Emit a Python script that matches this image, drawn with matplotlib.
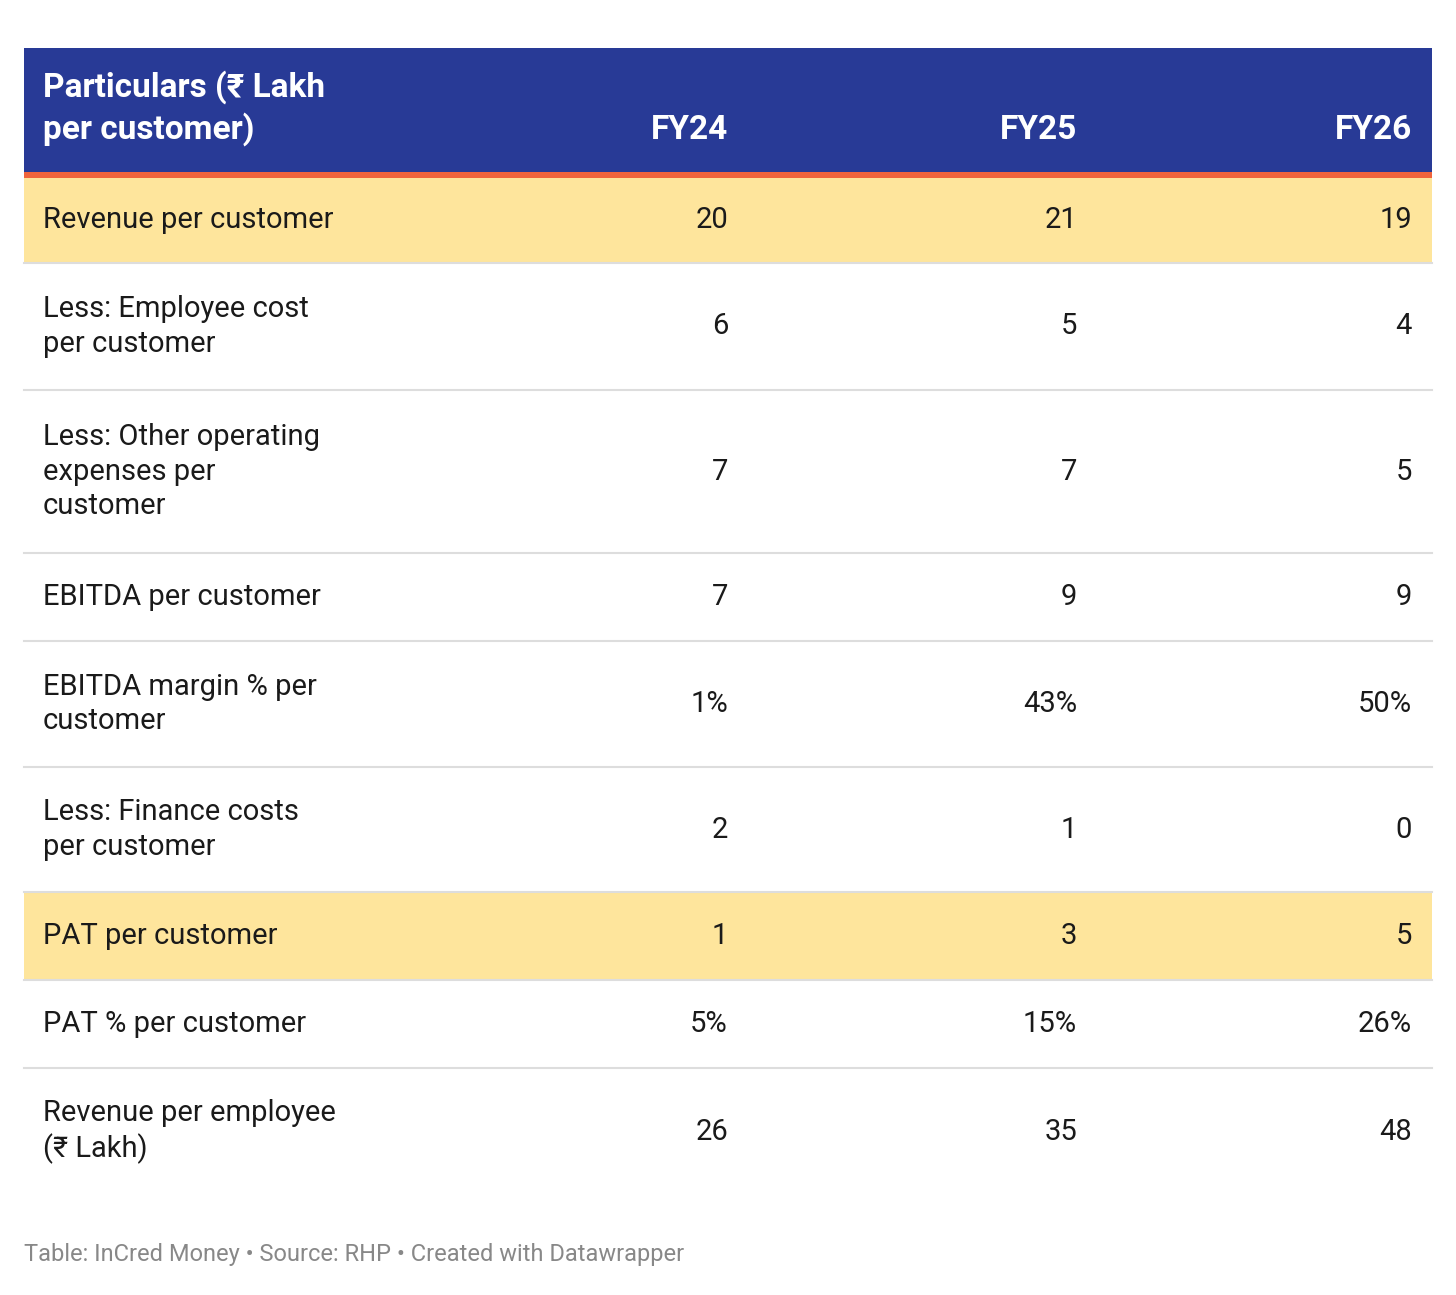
import matplotlib.pyplot as plt

plt.rcParams['font.family'] = ['Roboto', 'DejaVu Sans']

columns = ["FY24", "FY25", "FY26"]
labels = [
    "Revenue per customer",
    "Less: Employee cost\nper customer",
    "Less: Other operating\nexpenses per\ncustomer",
    "EBITDA per customer",
    "EBITDA margin % per\ncustomer",
    "Less: Finance costs\nper customer",
    "PAT per customer",
    "PAT % per customer",
    "Revenue per employee\n(₹ Lakh)",
]
fy24 = ["20", "6", "7", "7", "1%", "2", "1", "5%", "26"]
fy25 = ["21", "5", "7", "9", "43%", "1", "3", "15%", "35"]
fy26 = ["19", "4", "5", "9", "50%", "0", "5", "26%", "48"]
highlight = [True, False, False, False, False, False, True, False, False]

# row boundaries in pixels
row_edges = [178, 263, 390, 553, 641, 767, 892, 980, 1068, 1195]

W, H = 1456, 1295
fig = plt.figure(figsize=(W / 100, H / 100), dpi=100)
ax = fig.add_axes([0, 0, 1, 1])
ax.set_xlim(0, W)
ax.set_ylim(H, 0)
ax.axis('off')

left, right = 24, 1432
col_x = [728, 1077, 1412]

ax.add_patch(plt.Rectangle((left, 48), right - left, 124, color='#283a96', lw=0))
ax.add_patch(plt.Rectangle((left, 172), right - left, 6, color='#f0643c', lw=0))
ax.text(43, 108, "Particulars (₹ Lakh\nper customer)", color='white', fontsize=24,
        fontweight='bold', va='center', ha='left', linespacing=1.3)
for x, c in zip(col_x, columns):
    ax.text(x, 130, c, color='white', fontsize=24, fontweight='bold', va='center', ha='right')

for i, lab in enumerate(labels):
    top, bot = row_edges[i], row_edges[i + 1]
    mid = (top + bot) / 2
    if highlight[i]:
        ax.add_patch(plt.Rectangle((left, top), right - left, bot - top, color='#fee59c', lw=0))
    if i > 0:
        ax.plot([left, right], [top, top], color='#dddddd', lw=1.5)
    ax.text(43, mid, lab, fontsize=21, va='center', ha='left', color='#1a1a1a', linespacing=1.28)
    for x, v in zip(col_x, [fy24[i], fy25[i], fy26[i]]):
        ax.text(x, mid, v, fontsize=21, va='center', ha='right', color='#1a1a1a')

ax.text(24, 1255, "Table: InCred Money • Source: RHP • Created with Datawrapper",
        fontsize=17, color='#888888', va='center', ha='left')

fig.savefig('out.png', dpi=100, facecolor='white')
